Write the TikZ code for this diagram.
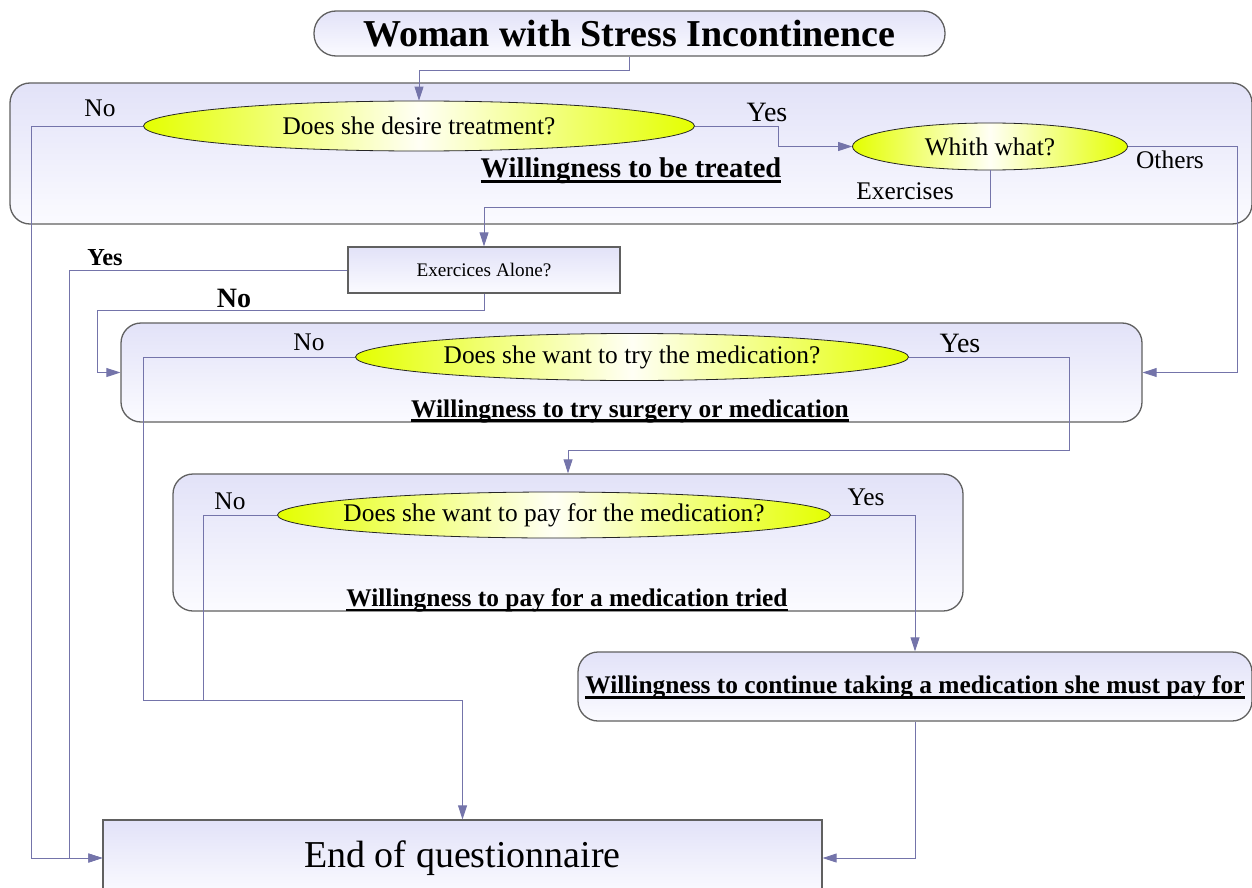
\documentclass[tikz,border=0pt]{standalone}
\usepackage{fontspec}
\setmainfont{Liberation Serif}
\usetikzlibrary{shapes,positioning,arrows.meta}
\tikzset{>={Triangle[length=14pt,width=9pt]}}
\definecolor{lineColor}{RGB}{116,116,170}
\definecolor{boxTop}{RGB}{226,226,248}
\definecolor{boxBottom}{RGB}{251,251,255}
\definecolor{questColor}{RGB}{228,255,0}
\definecolor{frameColor}{RGB}{96,96,96}
\newsavebox\ulbox
\newcommand\ulbold[1]{\sbox\ulbox{\textbf{#1}}\usebox\ulbox\llap{\rule[-5pt]{\wd\ulbox}{2.6pt}}}
\tikzset{
	group/.style={draw=frameColor, line width=1.3pt, rounded corners=20pt, top color=boxTop, bottom color=boxBottom, inner sep=0pt},
	plainbox/.style={draw=frameColor, line width=1.3pt, top color=boxTop, bottom color=boxBottom, inner sep=0pt},
	question/.style={ellipse, draw=black!85, line width=0.8pt, left color=questColor, right color=questColor, middle color=yellow!4, inner sep=0pt, font=\fontsize{25.4}{30}\selectfont},
	flow/.style={lineColor, line width=0.9pt},
	lbl/.style={font=\fontsize{25.4}{30}\selectfont},
	biglbl/.style={font=\fontsize{28}{32}\selectfont}
}
\begin{document}
\begin{tikzpicture}[x=1pt,y=-1pt]
				\useasboundingbox (0,0) rectangle (1252,888);
				\node[group, minimum width=631pt, minimum height=45pt, rounded corners=22pt, font=\fontsize{38}{42}\selectfont\bfseries] (title) at (629.5,33.5) {Woman with Stress Incontinence};
				\node[group, minimum width=1242pt, minimum height=141pt] (g1) at (631,153.5) {};
				\node[group, minimum width=1021pt, minimum height=99pt] (g2) at (631.5,372.5) {};
				\node[group, minimum width=790pt, minimum height=137pt] (g3) at (568,542.5) {};
				\node[group, minimum width=674pt, minimum height=69pt, text height=14pt, text depth=0pt, lbl] (cont) at (915,686.5) {\ulbold{Willingness to continue taking a medication she must pay for}};
				\node[plainbox, minimum width=272pt, minimum height=46pt, font=\fontsize{19.2}{22}\selectfont] (alone) at (484,270) {Exercices Alone?};
				\node[plainbox, minimum width=719pt, minimum height=76pt, font=\fontsize{38}{42}\selectfont] (endq) at (462.5,858) {End of questionnaire};
				
				\node[question, minimum width=551pt, minimum height=50pt] (q1) at (419,126) {\makebox[0pt]{Does she desire treatment?}};
				\node[question, minimum width=275pt, minimum height=47pt] (q2) at (990,146.5) {\makebox[0pt]{Whith what?}};
				\node[question, minimum width=553pt, minimum height=47pt] (q3) at (632,357) {\makebox[0pt]{Does she want to try the medication?}};
				\node[question, minimum width=553pt, minimum height=46pt] (q4) at (554,515) {\makebox[0pt]{Does she want to pay for the medication?}};
				\coordinate (noJoin) at (203,701);
				
				\draw[flow,->] (title.south) -- ++(0,14) -| (q1.north);
				\draw[flow,->] (q1.west) -- ++(-112,0) |- (endq.west);
				\draw[flow,->] (q1.east) -- ++(84,0) |- (q2.west);
				\draw[flow,->] (q2.east) -- ++(110,0) |- (g2.east);
				\draw[flow,->] (q2.south) -- ++(0,37) -| (alone.north);
				\draw[flow,->] (alone.west) -- ++(-278,0) |- (endq.west);
				\draw[flow,->] (alone.south) -- ++(0,17) -| ([xshift=-23pt]g2.west) -- (g2.west);
				\draw[flow,->] (q3.west) -- ++(-212,0) |- ([yshift=119pt]endq.north) -- (endq.north);
				\draw[flow,->] (q3.east) -- ++(161,0) -- ++(0,93) -| (g3.north);
				\draw[flow] (q4.west) -| (noJoin);
				\draw[flow,->] (q4.east) -| (cont.north);
				\draw[flow,->] (cont.south) |- (endq.east);
				
				\node[lbl] at (631,171) {\ulbold{\fontsize{28.5}{32}\selectfont Willingness to be treated}};
				\node[lbl] at (630,411) {\ulbold{Willingness to try surgery or medication}};
				\node[lbl] at (567,600) {\ulbold{Willingness to pay for a medication tried}};
				\node[lbl] at (100,108) {No};
				\node[biglbl] at (767,112) {Yes};
				\node[lbl] at (1170,160) {Others};
				\node[lbl] at (905,191) {Exercises};
				\node[lbl, font=\fontsize{24.4}{28}\selectfont\bfseries] at (105,258) {Yes};
				\node[biglbl, font=\fontsize{28}{32}\selectfont\bfseries] at (234,298) {No};
				\node[lbl] at (309,342) {No};
				\node[biglbl] at (960,343) {Yes};
				\node[lbl] at (230,501) {No};
				\node[lbl] at (866,497) {Yes};
\end{tikzpicture}
\end{document}
